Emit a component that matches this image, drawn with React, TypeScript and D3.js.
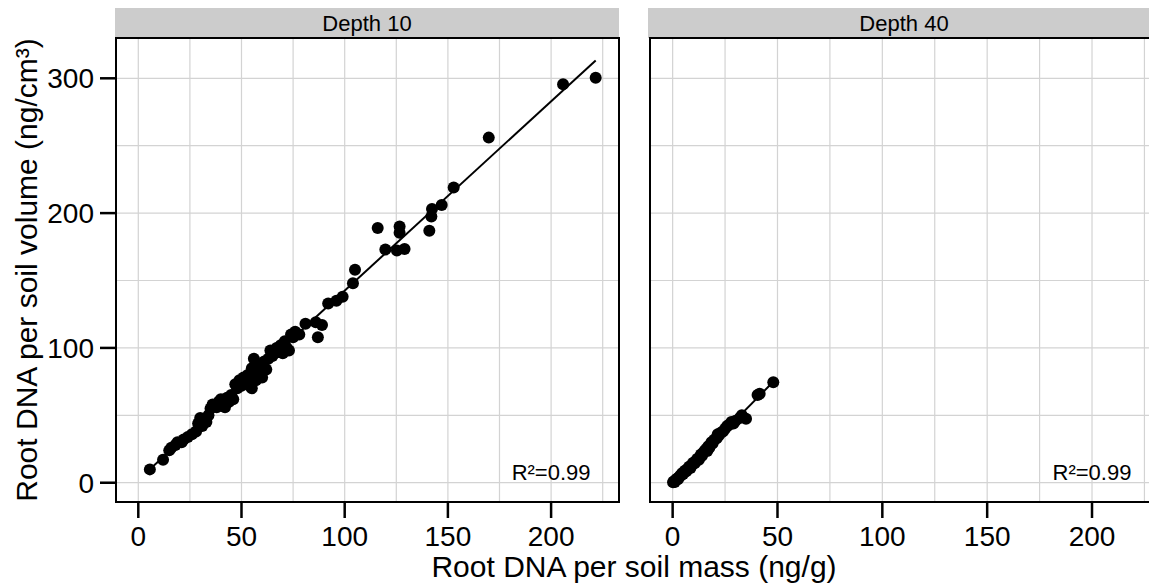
import React from 'react';
import * as d3 from 'd3';

// ---- data ----
const depth10: [number, number][] = [
  [5.6, 9.9], [12, 17], [15, 24], [16, 26], [18, 28], [19, 30], [21, 30], [22, 32], [24, 34], [26, 36],
  [28, 38], [29, 44], [30, 48], [31, 42], [33, 45], [34, 50], [35, 55], [36, 58], [38, 56], [39, 60],
  [40, 62], [41, 58], [42, 56], [43, 63], [44, 60], [45, 65], [46, 62], [47, 73], [48, 70], [49, 76],
  [50, 72], [51, 78], [52, 75], [53, 80], [54, 72], [55, 70], [55, 85], [56, 92], [57, 88], [57, 76],
  [58, 80], [59, 82], [60, 86], [60, 78], [61, 90], [62, 84], [63, 92], [64, 98], [65, 94], [66, 96],
  [67, 100], [68, 97], [69, 102], [70, 96], [71, 105], [72, 100], [73, 98], [74, 110], [75, 108], [76, 112],
  [78, 110], [81, 118], [86, 119], [87, 108], [89, 117], [92, 133], [96, 135], [99, 138], [104, 148], [105, 158],
  [116, 189], [119.7, 173], [125.3, 172.3], [126.6, 190], [126.6, 185.5], [129, 173.3], [141, 187], [142, 197.5],
  [142.3, 203], [147, 206], [152.8, 219], [169.8, 256], [205.8, 295.6], [221.6, 300.5],
];

const depth40: [number, number][] = [
  [0.2, 0.3], [0.5, 1], [1, 0.5], [1.5, 2], [2, 3], [2.5, 2.5], [3, 4], [3.5, 5], [4, 5.5], [4.5, 7],
  [5, 6.5], [5.5, 8], [6, 9], [6.5, 8.5], [7, 10], [7.5, 11], [8, 12], [8.5, 11], [9, 13], [9.5, 14],
  [10, 15], [10.5, 14.5], [11, 16], [11.5, 17], [12, 18], [12.5, 17], [13, 19], [13.5, 21], [14, 20], [14.5, 22],
  [15, 23], [15.5, 24], [16, 25], [16.5, 23.5], [17, 27], [17.5, 26], [18, 28], [18.5, 30], [19, 29], [19.5, 31],
  [20, 32], [21, 33], [21.5, 36], [22, 35], [23, 37], [24, 38], [25, 40], [26, 42], [27, 43], [28, 45],
  [29, 44], [30, 46], [32, 48], [33, 50], [35, 47.5], [40.5, 65], [41.5, 66], [48, 74.5],
];

const panelLabels = ['Depth 10', 'Depth 40'];
const r2Labels = ['R²=0.99', 'R²=0.99'];
const xTicks = [0, 50, 100, 150, 200];
const xGrid = [0, 25, 50, 75, 100, 125, 150, 175, 200, 225];
const yTicks = [0, 100, 200, 300];
const yGrid = [0, 50, 100, 150, 200, 250, 300];
const xLimits: [number, number] = [-10.8, 232.9];
const yLimits: [number, number] = [-14.3, 329.9];
const r2Pos: [number, number] = [200, 0];
const xTitle = 'Root DNA per soil mass (ng/g)';
const yTitle = 'Root DNA per soil volume (ng/cm³)';

function fit(pts: [number, number][]) {
  const mx = d3.mean(pts, (p) => p[0])!;
  const my = d3.mean(pts, (p) => p[1])!;
  let sxy = 0, sxx = 0;
  for (const [x, y] of pts) { sxy += (x - mx) * (y - my); sxx += (x - mx) * (x - mx); }
  const b = sxy / sxx;
  const a = my - b * mx;
  const [x0, x1] = d3.extent(pts, (p) => p[0]) as [number, number];
  return [[x0, a + b * x0], [x1, a + b * x1]] as [number, number][];
}

const FONT = '"Liberation Sans", Arial, sans-serif';

export default function App() {
  const W = 1149, H = 588;
  const top = 38, bottom = 502;
  const panels = [
    { data: depth10, left: 116, right: 619, stripL: 115, stripR: 619 },
    { data: depth40, left: 650, right: 1161, stripL: 648, stripR: 1170 },
  ];
  const y = d3.scaleLinear().domain(yLimits).range([bottom, top]);
  const line = d3.line<[number, number]>();

  return (
    <svg width={W} height={H} style={{ position: 'absolute', left: 0, top: 0, background: '#fff' }} fontFamily={FONT}>
      <rect x={0} y={0} width={W} height={H} fill="#fff" />
      {panels.map((p, i) => {
        const x = d3.scaleLinear().domain(xLimits).range([p.left, p.right]);
        const fitPts = fit(p.data);
        return (
          <g key={i}>
            <clipPath id={`clip${i}`}>
              <rect x={p.left} y={top} width={p.right - p.left} height={bottom - top} />
            </clipPath>
            <rect x={p.stripL} y={8} width={p.stripR - p.stripL} height={top - 8} fill="#cccccc" />
            <text x={(p.stripL + Math.min(p.stripR, W + 11)) / 2} y={31} textAnchor="middle" fontSize={22} fill="#000">
              {panelLabels[i]}
            </text>
            <g clipPath={`url(#clip${i})`}>
              {xGrid.map((v) => (
                <line key={'gx' + v} x1={x(v)} x2={x(v)} y1={top} y2={bottom} stroke="#d3d3d3" strokeWidth={1.2} />
              ))}
              {yGrid.map((v) => (
                <line key={'gy' + v} x1={p.left} x2={p.right} y1={y(v)} y2={y(v)} stroke="#d3d3d3" strokeWidth={1.2} />
              ))}
              {p.data.map((d, j) => (
                <circle key={j} cx={x(d[0])} cy={y(d[1])} r={6} fill="#000" />
              ))}
              <path d={line(fitPts.map((d) => [x(d[0]), y(d[1])]))!} stroke="#000" strokeWidth={2} fill="none" />
              <text x={x(r2Pos[0])} y={y(r2Pos[1]) - 3} textAnchor="middle" fontSize={22} fill="#000">
                {r2Labels[i]}
              </text>
            </g>
            <rect x={p.left} y={top} width={p.right - p.left} height={bottom - top} fill="none" stroke="#000" strokeWidth={2} />
            {xTicks.map((v) => (
              <g key={'xt' + v}>
                <line x1={x(v)} x2={x(v)} y1={bottom} y2={bottom + 16} stroke="#000" strokeWidth={2.5} />
                <text x={x(v)} y={546} textAnchor="middle" fontSize={28} fill="#000">{v}</text>
              </g>
            ))}
          </g>
        );
      })}
      {yTicks.map((v) => (
        <g key={'yt' + v}>
          <line x1={100} x2={116} y1={y(v)} y2={y(v)} stroke="#000" strokeWidth={2.5} />
          <text x={94} y={y(v)} dy="0.36em" textAnchor="end" fontSize={28} fill="#000">{v}</text>
        </g>
      ))}
      <text x={634} y={577} textAnchor="middle" fontSize={30} fill="#000">{xTitle}</text>
      <text transform={`translate(37, ${(top + bottom) / 2}) rotate(-90)`} textAnchor="middle" fontSize={30} fill="#000">
        {yTitle}
      </text>
    </svg>
  );
}
